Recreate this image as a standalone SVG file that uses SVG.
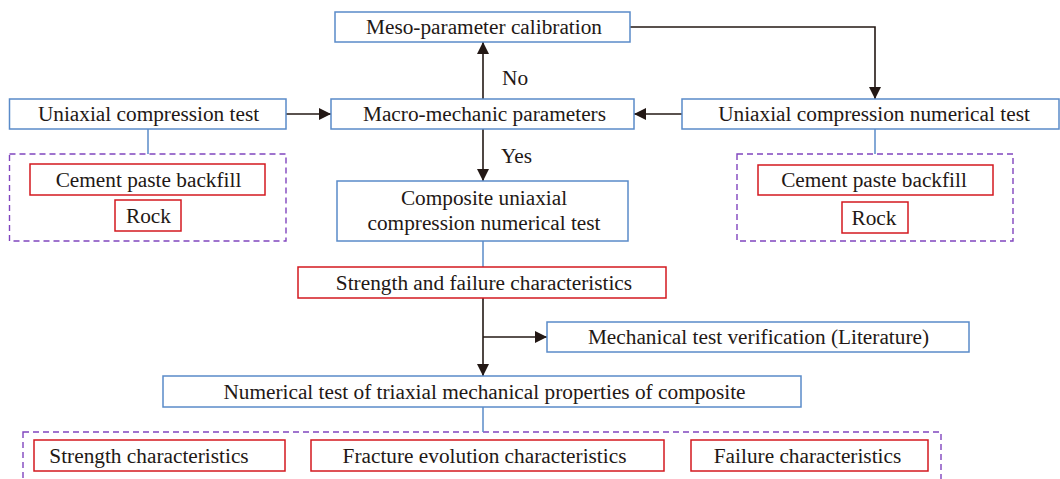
<svg xmlns="http://www.w3.org/2000/svg" width="1060" height="479" viewBox="0 0 1060 479">
  <style>
    .blue { fill: #ffffff; stroke: #5a8bc9; stroke-width: 1.5; }
    .red { fill: #ffffff; stroke: #d3191f; stroke-width: 1.5; }
    .group { fill: none; stroke: #8045be; stroke-width: 1.4; stroke-dasharray: 6 4; }
    .label { font-family: "Liberation Serif", "Times New Roman", serif; font-size: 21.3px; fill: #231815; text-anchor: middle; }
    .side { font-family: "Liberation Serif", "Times New Roman", serif; font-size: 21.3px; fill: #231815; }
    .flow { fill: none; stroke: #231815; stroke-width: 1.6; }
    .tie { fill: none; stroke: #5a8bc9; stroke-width: 1.5; }
  </style>
  <defs>
    <marker id="arrow" markerUnits="userSpaceOnUse" markerWidth="12" markerHeight="12" viewBox="0 0 12 12" refX="12" refY="6" orient="auto">
      <path d="M0,0 L12,6 L0,12 Z" fill="#231815"/>
    </marker>
  </defs>

  <rect width="1060" height="479" fill="#ffffff"/>

  <!-- dashed groupings -->
  <g id="groups">
    <rect class="group" x="9.5" y="154" width="276.5" height="87"/>
    <rect class="group" x="737" y="154" width="276" height="87"/>
    <rect class="group" x="23" y="432" width="918" height="60"/>
  </g>

  <!-- connectors -->
  <g id="connectors">
    <line class="flow" x1="286" y1="114" x2="331" y2="114" marker-end="url(#arrow)"/>
    <line class="flow" x1="682" y1="114" x2="634" y2="114" marker-end="url(#arrow)"/>
    <line class="flow" x1="483" y1="99" x2="483" y2="42" marker-end="url(#arrow)"/>
    <polyline class="flow" points="630,27 875,27 875,99" marker-end="url(#arrow)"/>
    <line class="flow" x1="483" y1="129" x2="483" y2="181" marker-end="url(#arrow)"/>
    <line class="flow" x1="483" y1="298" x2="483" y2="376" marker-end="url(#arrow)"/>
    <line class="flow" x1="483" y1="337" x2="547" y2="337" marker-end="url(#arrow)"/>
    <line class="tie" x1="483" y1="241" x2="483" y2="267"/>
    <line class="tie" x1="483" y1="407" x2="483" y2="432"/>
    <line class="tie" x1="148" y1="129" x2="148" y2="154"/>
    <line class="tie" x1="875" y1="129" x2="875" y2="154"/>
    <text class="side" x="502" y="85">No</text>
    <text class="side" x="501" y="163">Yes</text>
  </g>

  <g id="meso">
    <rect class="blue" x="335" y="12" width="295" height="30"/>
    <text class="label" x="484" y="34">Meso-parameter calibration</text>
  </g>

  <g id="uniaxial-test">
    <rect class="blue" x="9.5" y="99" width="276.5" height="30"/>
    <text class="label" x="148.5" y="121">Uniaxial compression test</text>
  </g>

  <g id="macro">
    <rect class="blue" x="331" y="99" width="303" height="30"/>
    <text class="label" x="484.5" y="121">Macro-mechanic parameters</text>
  </g>

  <g id="uniaxial-numerical">
    <rect class="blue" x="682" y="99" width="377" height="30"/>
    <text class="label" x="874" y="121">Uniaxial compression numerical test</text>
  </g>

  <g id="left-backfill">
    <rect class="red" x="30" y="164" width="235" height="31"/>
    <text class="label" x="148.5" y="187">Cement paste backfill</text>
  </g>
  <g id="left-rock">
    <rect class="red" x="115" y="200" width="66" height="31"/>
    <text class="label" x="148.5" y="223">Rock</text>
  </g>

  <g id="right-backfill">
    <rect class="red" x="758" y="165" width="235" height="30"/>
    <text class="label" x="874" y="187">Cement paste backfill</text>
  </g>
  <g id="right-rock">
    <rect class="red" x="842" y="202" width="66" height="31"/>
    <text class="label" x="874" y="225">Rock</text>
  </g>

  <g id="composite">
    <rect class="blue" x="337" y="181" width="291" height="60"/>
    <text class="label" x="484" y="205">Composite uniaxial</text>
    <text class="label" x="484" y="230">compression numerical test</text>
  </g>

  <g id="strength-failure">
    <rect class="red" x="298" y="267" width="368" height="31"/>
    <text class="label" x="484" y="290">Strength and failure characteristics</text>
  </g>

  <g id="verification">
    <rect class="blue" x="547" y="322" width="422" height="30"/>
    <text class="label" x="758.5" y="344">Mechanical test verification (Literature)</text>
  </g>

  <g id="triaxial">
    <rect class="blue" x="163" y="376" width="638" height="31"/>
    <text class="label" x="484.5" y="399">Numerical test of triaxial mechanical properties of composite</text>
  </g>

  <g id="strength-char">
    <rect class="red" x="34" y="440" width="251" height="31"/>
    <text class="label" x="149" y="463">Strength characteristics</text>
  </g>
  <g id="fracture-char">
    <rect class="red" x="311" y="440" width="353" height="31"/>
    <text class="label" x="484.5" y="463">Fracture evolution characteristics</text>
  </g>
  <g id="failure-char">
    <rect class="red" x="691" y="440" width="237" height="31"/>
    <text class="label" x="807.5" y="463">Failure characteristics</text>
  </g>
</svg>
